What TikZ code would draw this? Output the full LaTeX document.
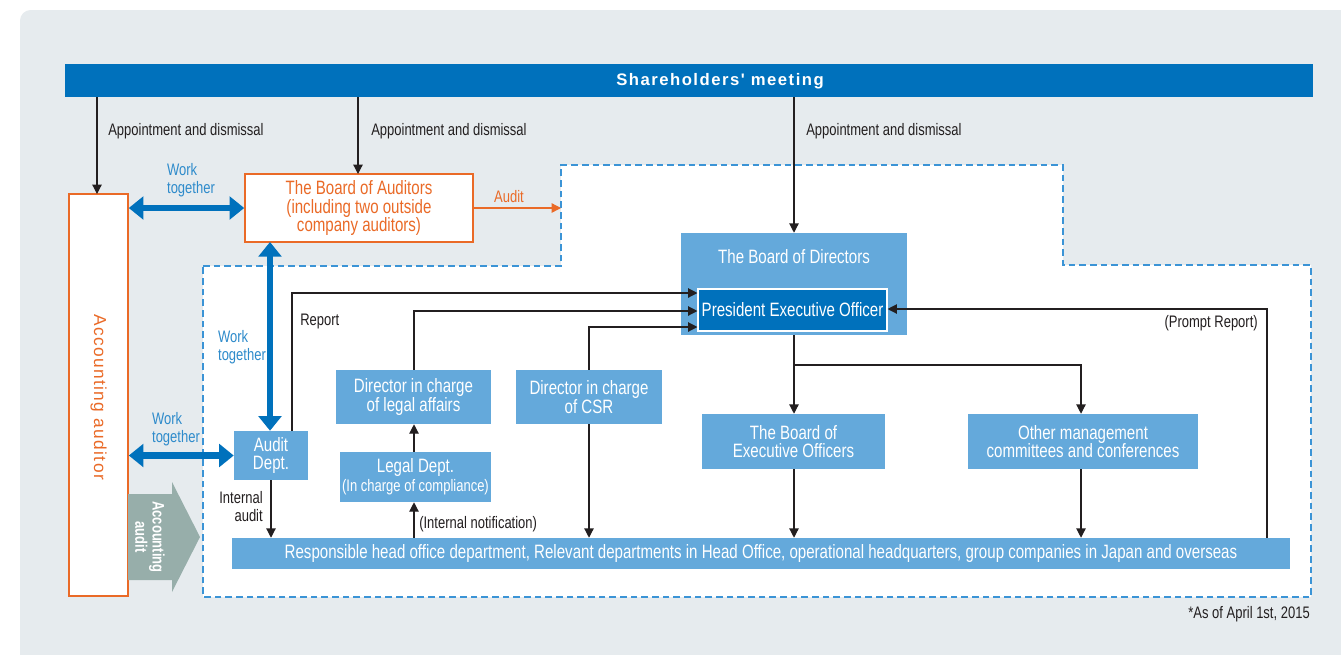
\documentclass[tikz,border=0pt]{standalone}
\usepackage{fontspec}
\setmainfont{Liberation Sans}[FakeStretch=0.78]
\newfontfamily\shfont{Liberation Sans}[LetterSpace=9]
\newfontfamily\aafont{Liberation Sans}[LetterSpace=8]
\usetikzlibrary{arrows.meta}
\definecolor{panel}{HTML}{E6EBEE}
\definecolor{dblue}{HTML}{0071BC}
\definecolor{mblue}{HTML}{64A9DB}
\definecolor{dashblue}{HTML}{3B94D6}
\definecolor{orng}{HTML}{EA6A27}
\definecolor{wtblue}{HTML}{2E8BCB}
\definecolor{ggreen}{HTML}{97AEAA}
\definecolor{txt}{HTML}{231F20}
\tikzset{
  boxfont/.style={font=\fontsize{14.5}{14}\selectfont},
  lblfont/.style={font=\fontsize{12.5}{13.5}\selectfont},
  bluebox/.style={fill=mblue, text=white, inner sep=0pt, align=center, boxfont},
  orgbox/.style={draw=orng, line width=1.2pt, fill=white, text=orng, inner sep=0pt, align=center, boxfont},
  arr/.style={draw=txt, line width=0.9pt, -{Triangle[length=7pt,width=7pt]}},
  ln/.style={draw=txt, line width=0.9pt},
  thickarr/.style={draw=dblue, line width=5pt, {Triangle[length=11pt,width=17pt]}-{Triangle[length=11pt,width=17pt]}},
  lbl/.style={text=txt, lblfont, inner sep=0pt},
  wt/.style={text=wtblue, lblfont, inner sep=0pt, align=left},
}
\begin{document}
\begin{tikzpicture}[x=0.75pt,y=-0.75pt]
\useasboundingbox (0,0) rectangle (1341,654);
\begin{scope}
\clip (0,0) rectangle (1341,654);
\fill[panel, rounded corners=8pt] (20,10) rectangle (1360,680);
\end{scope}
% dashed region
\draw[dashblue, line width=1.1pt, dash pattern=on 5pt off 3pt, fill=white]
  (203,266) -- (561,266) -- (561,165) -- (1063,165) -- (1063,265) -- (1311,265) -- (1311,597) -- (203,597) -- cycle;
% shareholders
\node[fill=dblue, minimum width=936pt, minimum height=24.75pt, inner sep=0pt] (sh) at (689,80.5) {};
\node[text=white, inner sep=0pt, font=\shfont\bfseries\fontsize{12.5}{14}\selectfont] (shtext) at (720,81.5) {Shareholders' meeting};
% accounting auditor
\node[orgbox, minimum width=44.25pt, minimum height=301.5pt] (AA) at (98.5,395) {};
\node[rotate=-90, text=orng, inner sep=0pt, font=\aafont\fontsize{13}{15}\selectfont] (AAtext) at (98.5,397) {Accounting auditor};
% board of auditors
\node[orgbox, minimum width=171pt, minimum height=51pt] (BoA) at (359,208) {The Board of Auditors\\(including two outside\\company auditors)};
% accounting audit block arrow
\fill[ggreen] (128,494) -- (172,494) -- (172,482) -- (200,537) -- (172,592) -- (172,580) -- (128,580) -- cycle;
\node[rotate=-90, text=white, align=center, inner sep=0pt, font=\bfseries\fontsize{12.5}{13}\selectfont] (AAudit) at (150,537) {Accounting\\audit};
% board of directors
\node[bluebox, minimum width=169.5pt, minimum height=76.5pt] (BoD) at (794,284) {};
\node[text=white, inner sep=0pt, boxfont] (BoDtext) at (794,257) {The Board of Directors};
\node[fill=dblue, draw=white, line width=0.8pt, text=white, minimum width=141.75pt, minimum height=31.5pt, inner sep=0pt, boxfont] (PEO) at (792.5,310) {President Executive Officer};
% other boxes
\node[bluebox, minimum width=55.5pt, minimum height=36.75pt] (AD) at (271,455.5) {Audit\\Dept.};
\node[bluebox, minimum width=116.25pt, minimum height=40.5pt] (LD) at (413.5,397) {Director in charge\\of legal affairs};
\node[bluebox, minimum width=109.5pt, minimum height=40.5pt] (CSR) at (589,397) {Director in charge\\of CSR};
\node[bluebox, minimum width=113.25pt, minimum height=37.5pt] (LDept) at (415.5,477) {Legal Dept.\\{\fontsize{12.5}{14}\selectfont(In charge of compliance)}};
\node[bluebox, minimum width=137.25pt, minimum height=41.25pt] (BEO) at (793.5,441.5) {The Board of\\Executive Officers};
\node[bluebox, minimum width=172.5pt, minimum height=41.25pt] (OM) at (1083,441.5) {Other management\\committees and conferences};
\node[bluebox, minimum width=793.5pt, minimum height=23.25pt] (bar) at (761,553.5) {Responsible head office department, Relevant departments in Head Office, operational headquarters, group companies in Japan and overseas};
% appointment arrows
\draw[arr] (sh.south -| 97,0) -- (97,194);
\draw[arr] (sh.south -| 358,0) -- (358,174);
\draw[arr] (sh.south -| BoD.north) -- (BoD.north);
\node[lbl, anchor=west] (ap1) at (108,131) {Appointment and dismissal};
\node[lbl, anchor=west] (ap2) at (371,131) {Appointment and dismissal};
\node[lbl, anchor=west] (ap3) at (806,131) {Appointment and dismissal};
% work together arrows
\draw[thickarr] (AA.east |- BoA.west) -- (BoA.west);
\draw[thickarr] (AA.east |- AD.west) -- (AD.west);
\draw[thickarr] (270,242) -- (AD.north -| 270,0);
\node[wt] (wt1) at (191,180) {Work\\together};
\node[wt] (wt2) at (242,347) {Work\\together};
\node[wt] (wt3) at (176,429) {Work\\together};
% audit arrow
\coordinate (auditend) at (561,208);
\draw[draw=orng, line width=1pt, -{Triangle[length=7pt,width=7pt]}] (BoA.east) -- (auditend);
\node[text=orng, lblfont, inner sep=0pt] (auditlbl) at (509,197) {Audit};
% reports to PEO
\draw[arr] (AD.north -| 292,0) -- (292,293) -- (PEO.west |- 0,293);
\node[lbl, anchor=west] (rep) at (300,321) {Report};
\draw[arr] (LD.north -| 414,0) -- (414,311) -- (PEO.west |- 0,311);
\draw[arr] (CSR.north) -- (CSR.north |- 0,327) -- (PEO.west |- 0,327);
\draw[arr] (CSR.south) -- (CSR.south |- bar.north);
\draw[arr] (bar.north -| 1267,0) -- (1267,309) -- (PEO.east |- 0,309);
\node[lbl, anchor=east] (prompt) at (1258,323) {(Prompt Report)};
% legal
\draw[arr] (LDept.north -| 414,0) -- (LD.south -| 414,0);
\draw[arr] (bar.north -| 414,0) -- (LDept.south -| 414,0);
\node[lbl, anchor=west] (inotif) at (419,524) {(Internal notification)};
% internal audit
\draw[arr] (AD.south) -- (AD.south |- bar.north);
\node[lbl, anchor=east, align=right] (iaudit) at (263,507) {Internal\\audit};
% PEO down
\coordinate (split) at (BoD.south |- 0,365);
\draw[ln] (BoD.south) -- (split);
\draw[arr] (split) -- (BEO.north -| split);
\draw[arr] (split) -- (split -| 1081,0) -- (OM.north -| 1081,0);
\draw[arr] (BEO.south -| split) -- (bar.north -| split);
\draw[arr] (OM.south -| 1081,0) -- (bar.north -| 1081,0);
% footnote
\node[lbl, anchor=east] (foot) at (1310,614) {*As of April 1st, 2015};
\end{tikzpicture}
\end{document}
